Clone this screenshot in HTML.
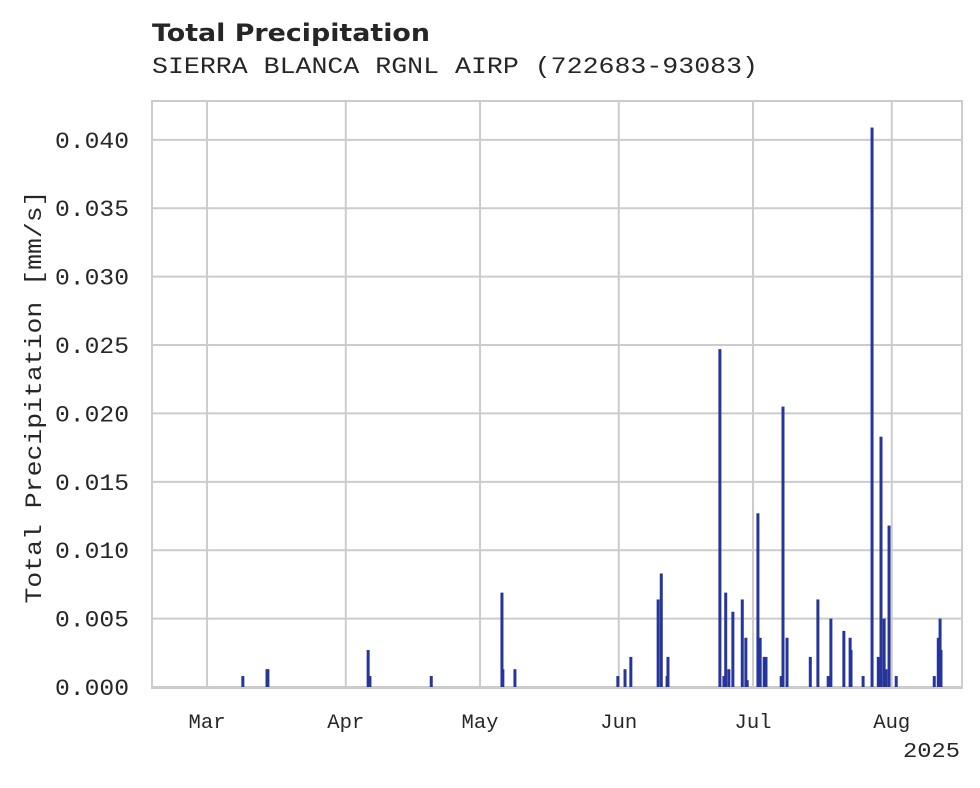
<!DOCTYPE html>
<html><head><meta charset="utf-8"><style>
body{margin:0;background:#fff}
svg text{fill:#262626}
.mono{font-family:"Liberation Mono","DejaVu Sans Mono",monospace}
</style></head><body>
<svg id="chart" width="980" height="783" xmlns="http://www.w3.org/2000/svg">
<text x="152" y="41" font-family="DejaVu Sans, Liberation Sans, sans-serif" font-weight="bold" font-size="24" textLength="278" lengthAdjust="spacingAndGlyphs">Total Precipitation</text>
<text class="mono" x="152" y="73" font-size="23" textLength="606" lengthAdjust="spacingAndGlyphs">SIERRA BLANCA RGNL AIRP (722683-93083)</text>
<g id="grid"></g>
<g id="bars"></g>
<rect x="152" y="101" width="810" height="587" fill="none" stroke="#cccccc" stroke-width="2"/>
<g id="yticks"></g>
<g id="xticks"></g>
<text class="mono" x="903" y="757" font-size="21" textLength="57" lengthAdjust="spacingAndGlyphs">2025</text>
<text class="mono" transform="translate(41,397) rotate(-90)" text-anchor="middle" font-size="23" textLength="413" lengthAdjust="spacingAndGlyphs">Total Precipitation [mm/s]</text>
</svg>
<script>
// day offsets from Mar 1 2025
const days = [8.0,13.4,13.6,36.0,36.4,50.1,65.9,66.1,68.8,91.8,93.4,94.7,100.8,101.5,102.8,103.0,114.6,115.5,115.9,116.6,117.5,119.6,120.4,120.7,123.1,123.6,124.5,124.9,128.3,128.7,129.6,134.8,136.5,138.8,139.4,142.3,143.7,143.9,146.6,148.6,150.0,150.6,151.3,151.7,152.4,154.0,162.5,163.4,163.8,164.0];
const values = [0.0008,0.0013,0.0013,0.0027,0.0008,0.0008,0.0069,0.0013,0.0013,0.0008,0.0013,0.0022,0.0064,0.0083,0.0008,0.0022,0.0247,0.0008,0.0069,0.0013,0.0055,0.0064,0.0036,0.0005,0.0127,0.0036,0.0022,0.0022,0.0008,0.0205,0.0036,0.0022,0.0064,0.0008,0.0050,0.0041,0.0036,0.0027,0.0008,0.0409,0.0022,0.0183,0.0050,0.0013,0.0118,0.0008,0.0008,0.0036,0.0050,0.0027];
const yTicks = [0,0.005,0.010,0.015,0.020,0.025,0.030,0.035,0.040];
const yTickLabels = ["0.000","0.005","0.010","0.015","0.020","0.025","0.030","0.035","0.040"];
const monthDays = [0,31,61,92,122,153];
const monthLabels = ["Mar","Apr","May","Jun","Jul","Aug"];

const X0=152,X1=962,Y0=101,Y1=687;
const dMin=-12.3,dMax=168.7,vMax=0.04284;
const xs=d=>X0+(d-dMin)/(dMax-dMin)*(X1-X0);
const ys=v=>Y1-v/vMax*(Y1-Y0);
const NS="http://www.w3.org/2000/svg";
function mk(tag,attrs,parent){const e=document.createElementNS(NS,tag);for(const k in attrs)e.setAttribute(k,attrs[k]);parent.appendChild(e);return e;}
const grid=document.getElementById('grid'),bars=document.getElementById('bars'),yt=document.getElementById('yticks'),xt=document.getElementById('xticks');
yTicks.forEach((v,i)=>{
  const l=mk('line',{x1:X0,x2:X1,y1:ys(v),y2:ys(v),stroke:'#cccccc','stroke-width':2},grid);
  
  
  const t=mk('text',{x:55,y:ys(v)+8,'font-size':23,textLength:74,lengthAdjust:'spacingAndGlyphs',class:'mono'},yt);
  t.textContent=yTickLabels[i];
  
  
});
monthDays.forEach((d,i)=>{
  const l=mk('line',{x1:xs(d),x2:xs(d),y1:Y0,y2:Y1,stroke:'#cccccc','stroke-width':2},grid);
  
  
  const t=mk('text',{x:xs(d)-18.5,y:728,'font-size':20,textLength:37,lengthAdjust:'spacingAndGlyphs',class:'mono'},xt);
  t.textContent=monthLabels[i];
  
  
});
days.forEach((d,i)=>{
  const x=xs(d),y=ys(values[i]);
  const r=mk('rect',{x:x-1.5,y:y,width:3,height:Y1-y,fill:'#26359a'},bars);
  
  
});
</script>
</body></html>
